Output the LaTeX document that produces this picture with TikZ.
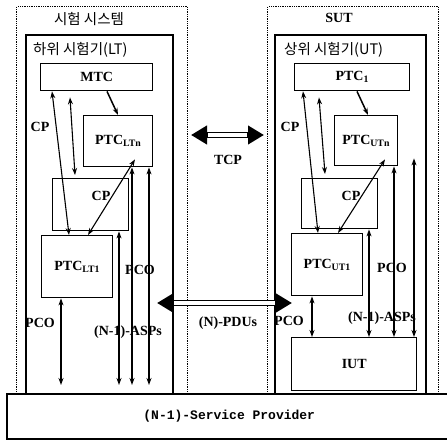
\documentclass[tikz,border=0pt]{standalone}
\usepackage{fontspec}
\setmainfont{Liberation Serif}
\setmonofont{Liberation Mono}
\newfontfamily\krfont{Noto Sans CJK KR}
\usetikzlibrary{positioning,arrows.meta,calc}

\begin{document}
\begin{tikzpicture}[x=1pt,y=-1pt,>={Stealth[length=7pt,width=5pt]},
  b/.style={draw,line width=1.4pt,anchor=north west,inner sep=0pt,font=\bfseries\fontsize{14}{16}\selectfont},
  frame/.style={draw,line width=1.3pt,densely dotted,anchor=north west,inner sep=0pt},
  tester/.style={draw,line width=1.8pt,anchor=north west,inner sep=0pt},
  lbl/.style={font=\bfseries\fontsize{14}{16}\selectfont,inner sep=1pt},
  ttl/.style={font=\krfont\fontsize{14.5}{16}\selectfont,inner sep=1pt},
  cp/.style={<->,line width=1.1pt},
  pco/.style={<->,line width=2pt},
  fat/.style={line width=6.5pt,{Triangle[length=16pt,width=18pt]}-{Triangle[length=16pt,width=18pt]}},
  fatin/.style={white,line width=3.2pt,shorten <=17pt,shorten >=17pt}]
\useasboundingbox (0,0) rectangle (447,443);

% frames
\node[frame,minimum width=171pt,minimum height=387pt] (sys) at (16,6) {};
\node[frame,minimum width=171pt,minimum height=387pt] (sut) at (267,6) {};
\node[ttl] (systt) at (89,19) {시험 시스템};
\node[lbl] (suttt) at (339,18) {SUT};
\node[tester,minimum width=147pt,minimum height=359pt] (lt) at (25,34) {};
\node[tester,minimum width=151pt,minimum height=359pt] (ut) at (274,34) {};
\node[ttl,below right=7pt and 7pt of lt.north west,anchor=north west] (lttt) {하위 시험기(LT)};
\node[ttl,below right=7pt and 9pt of ut.north west,anchor=north west] (uttt) {상위 시험기(UT)};

% lower tester
\node[b,minimum width=112pt,minimum height=27pt] (mtc) at (40,63) {MTC};
\node[b,minimum width=69pt,minimum height=51pt] (ltn) at (83,115) {PTC\textsubscript{LTn}};
\node[b,minimum width=76pt,minimum height=52pt] (lcp) at (52,178) {};
\node[b,minimum width=71pt,minimum height=62pt] (lt1) at (41,235) {PTC\textsubscript{LT1}};

% upper tester
\node[b,minimum width=115pt,minimum height=27pt] (ptc1) at (294,63) {PTC\textsubscript{1}};
\node[b,minimum width=63pt,minimum height=50pt] (utn) at (334,115) {PTC\textsubscript{UTn}};
\node[b,minimum width=76pt,minimum height=50pt] (ucp) at (301,178) {};
\node[b,minimum width=71pt,minimum height=62pt] (ut1) at (291,233) {PTC\textsubscript{UT1}};
\node[b,minimum width=125pt,minimum height=53pt] (iut) at (291,337) {IUT};

\node[draw,line width=1.5pt,anchor=north west,minimum width=445pt,minimum height=45pt,font=\ttfamily\bfseries\fontsize{13}{15}\selectfont] (sp) at (6,393) {(N-1)-Service Provider};

% labels
\node[lbl] (cpa) at (40,127) {CP};
\node[lbl] (cpb) at (101,196) {CP};
\node[lbl] (pcoa) at (140,270) {PCO};
\node[lbl] (pcob) at (40,323) {PCO};
\node[lbl] (aspa) at (128,332) {(N-1)-ASPs};
\node[lbl] (cpc) at (290,127) {CP};
\node[lbl] (cpd) at (351,196) {CP};
\node[lbl] (pcoc) at (392,268) {PCO};
\node[lbl] (pcod) at (289,321) {PCO};
\node[lbl] (aspb) at (382,318) {(N-1)-ASPs};
\node[lbl] (tcp) at (228,160) {TCP};
\node[lbl] (pdu) at (228,323) {(N)-PDUs};

% connectors
\draw[cp] ([xshift=12pt]mtc.south west) -- ([xshift=28pt]lt1.north west);
\draw[cp] ([xshift=30pt,yshift=-6pt]mtc.south west) -- ([xshift=23pt,yshift=3pt]lcp.north west);
\draw[->,line width=1.5pt] ([xshift=67pt]mtc.south west) -- ([xshift=35pt]ltn.north west);
\draw[cp] ([xshift=52pt,yshift=8pt]ltn.south west) -- ([xshift=47pt]lt1.north west);
\foreach \n/\dx in {ltn/49,ltn/66,lcp/67,lt1/20}
  \draw[pco,shorten >=8pt] ([xshift=\dx pt]\n.south west) -- ($(\n.south west |- sp.north)+(\dx,0)$);

\draw[cp] ([xshift=9pt]ptc1.south west) -- ([xshift=27pt]ut1.north west);
\draw[cp] ([xshift=25pt,yshift=-6pt]ptc1.south west) -- ([xshift=24pt,yshift=4pt]ucp.north west);
\draw[->,line width=1.5pt] ([xshift=63pt]ptc1.south west) -- ([xshift=34pt]utn.north west);
\draw[cp] ([xshift=51pt,yshift=7pt]utn.south west) -- ([xshift=47pt]ut1.north west);
\foreach \n/\dx/\dy in {utn/60/0,utn/80/8,ucp/68/0,ut1/21/0}
  \draw[pco] ([xshift=\dx pt,yshift=\dy pt]\n.south west) -- ($(\n.south west |- iut.north)+(\dx,0)$);

% protocol arrows
\coordinate (tcpl) at (191,135);
\coordinate (tcpr) at (264,135);
\coordinate (pdul) at (157,303);
\coordinate (pdur) at (292,303);
\draw[fat] (tcpl) -- (tcpr); \draw[fatin] (tcpl) -- (tcpr);
\draw[fat] (pdul) -- (pdur); \draw[fatin] (pdul) -- (pdur);
\end{tikzpicture}
\end{document}
